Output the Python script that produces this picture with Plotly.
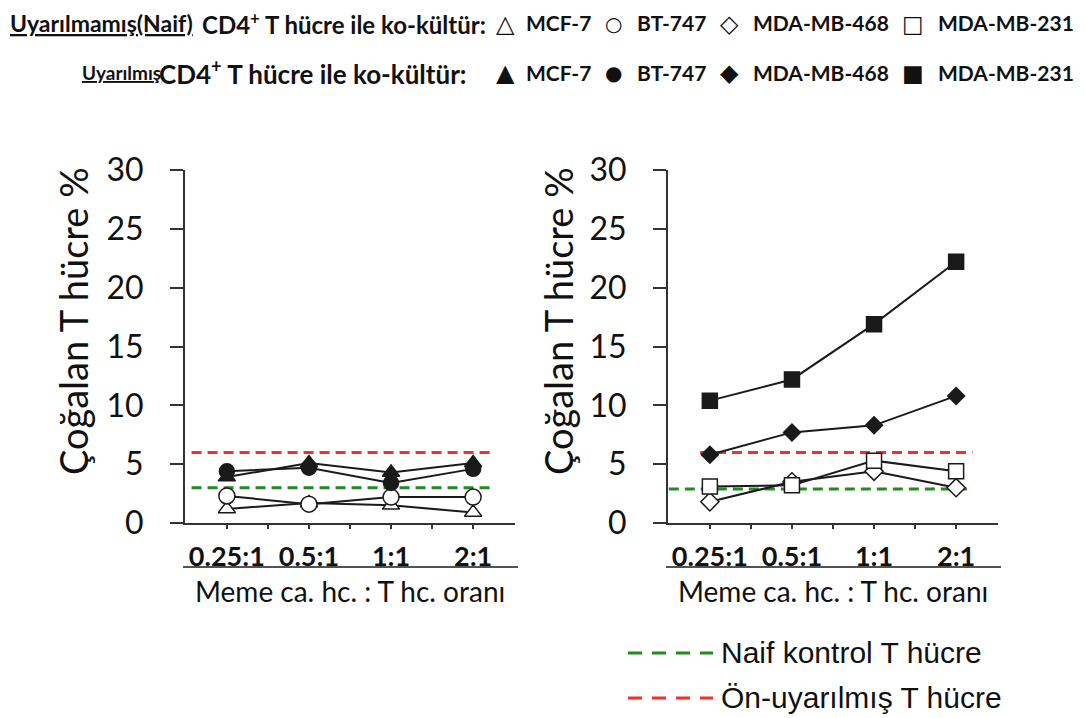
import plotly.graph_objects as go

# ---------------- data ----------------
ratios = ["0.25:1", "0.5:1", "1:1", "2:1"]
x_idx = list(range(len(ratios)))
y_ticks = [0, 5, 10, 15, 20, 25, 30]

# Left panel (MCF-7, BT-747)
left_mcf7_naive = [1.2, 1.7, 1.5, 0.9]
left_bt747_naive = [2.3, 1.6, 2.2, 2.2]
left_mcf7_stim = [3.9, 5.1, 4.3, 5.1]
left_bt747_stim = [4.4, 4.7, 3.4, 4.6]

# Right panel (MDA-MB-468, MDA-MB-231)
right_468_naive = [1.8, 3.5, 4.4, 3.0]
right_231_naive = [3.1, 3.2, 5.3, 4.4]
right_468_stim = [5.8, 7.7, 8.3, 10.8]
right_231_stim = [10.4, 12.2, 16.9, 22.2]

# control reference levels (left panel, right panel)
naive_ctrl = [3.0, 2.9]
prestim_ctrl = [6.0, 6.0]

# ---------------- styling helpers ----------------
W, H = 1085, 718
def px(x):
    return x / W
def py(y):
    return 1 - y / H

RED = "#ff2b2b"
GREEN = "#1f8c1f"
LINE = "#1a1a1a"
AX = "#333333"

fig = go.Figure()

def add_series(xa, ya, vals, symbol, size, filled):
    fig.add_trace(go.Scatter(
        x=x_idx, y=vals, mode="lines+markers", xaxis=xa, yaxis=ya,
        line=dict(color=LINE, width=2),
        marker=dict(symbol=symbol, size=size,
                    color=LINE if filled else "white",
                    line=dict(color=LINE, width=1.5)),
        showlegend=False, hoverinfo="skip"))

# left panel
add_series("x", "y", left_mcf7_naive, "triangle-up", 15, False)
add_series("x", "y", left_bt747_naive, "circle", 16, False)
add_series("x", "y", left_bt747_stim, "circle", 15, True)
add_series("x", "y", left_mcf7_stim, "triangle-up", 15, True)
# right panel
add_series("x2", "y2", right_468_naive, "diamond", 14, False)
add_series("x2", "y2", right_231_naive, "square", 15, False)
add_series("x2", "y2", right_468_stim, "diamond", 13, True)
add_series("x2", "y2", right_231_stim, "square", 15, True)

# dashed reference lines
ref_ext = {
    ("x", "g"): (-0.43, 3.22), ("x", "r"): (-0.43, 3.22),
    ("x2", "g"): (-0.5, 3.2), ("x2", "r"): (-0.12, 3.2),
}
for i, (xa, ya) in enumerate([("x", "y"), ("x2", "y2")]):
    for key, val, col in (("g", naive_ctrl[i], GREEN), ("r", prestim_ctrl[i], RED)):
        x0, x1 = ref_ext[(xa, key)]
        fig.add_shape(type="line", xref=xa, yref=ya, x0=x0, x1=x1, y0=val, y1=val,
                      line=dict(color=col, width=3, dash="10px,6px"), layer="below")

axis_common = dict(showline=True, linecolor=AX, linewidth=2, showgrid=False,
                   zeroline=False, ticks="outside", tickcolor=AX, automargin=False)

dom_left = [px(185), px(515)]
dom_right = [px(668), px(998)]
dom_y = [py(523), py(170)]

for xname, yname, xdom, anchor_x, anchor_y in (("xaxis", "yaxis", dom_left, "y", "x"),
                                                 ("xaxis2", "yaxis2", dom_right, "y2", "x2")):
    fig.layout[xname] = dict(axis_common, domain=xdom, anchor=anchor_x, range=[-0.51, 3.51],
                             tickvals=x_idx, ticktext=ratios, ticklen=4, tickwidth=1.5,
                             ticklabelstandoff=5,
                             minor=dict(tickvals=[0.5, 1.5, 2.5], ticklen=4, tickwidth=1.5,
                                        ticks="outside", tickcolor=AX),
                             tickfont=dict(family="Lato", size=27, color="#111", weight="bold"))
    fig.layout[yname] = dict(axis_common, domain=dom_y, anchor=anchor_y, range=[0, 30],
                             tickvals=y_ticks, ticklen=13, tickwidth=2,
                             ticklabelstandoff=20,
                             tickfont=dict(family="Lato", size=32, color="#111"))

# separator lines below tick labels and x titles
for x0, x1, xc in ((183, 518, 350), (666, 1001, 833)):
    fig.add_shape(type="line", xref="paper", yref="paper", x0=px(x0), x1=px(x1),
                  y0=py(567), y1=py(567), line=dict(color=LINE, width=1.5))
    fig.add_annotation(text="Meme ca. hc. : T hc. oranı", x=px(xc), y=py(591),
                       xref="paper", yref="paper", showarrow=False, xanchor="center",
                       yanchor="middle", font=dict(family="Lato", size=28, color="#111"))

# y titles
for xc in (73, 558):
    fig.add_annotation(text="Çoğalan T hücre %", x=px(xc), y=py(321), xref="paper",
                       yref="paper", showarrow=False, textangle=-90, xanchor="center",
                       yanchor="middle", font=dict(family="Lato", size=38, color="#111"))

# top legend
def TF(size):
    return dict(family="Lato", size=size, color="#111", weight="bold")

def txt(t, x, y, anchor="left", font=None):
    fig.add_annotation(text=t, x=px(x), y=py(y), xref="paper", yref="paper",
                       showarrow=False, xanchor=anchor, yanchor="middle",
                       font=font if font is not None else TF(21))

txt("Uyarılmamış(Naif)", 8, 23, font=dict(TF(23), lineposition="under"))
txt("CD4<sup>+</sup> T hücre ile ko-kültür:", 200, 23, font=TF(24))
txt("Uyarılmış", 80, 72, font=dict(TF(19), lineposition="under"))
txt("CD4<sup>+</sup> T hücre ile ko-kültür:", 157, 72, font=TF(26))

row_items = [("△", "▲", 505, 24, "MCF-7", 524),
             ("○", "●", 613, 20, "BT-747", 635),
             ("◇", "◆", 729, 24, "MDA-MB-468", 751),
             ("□", "■", 913, 23, "MDA-MB-231", 936)]
for s_open, s_fill, sx, ss, label, lx in row_items:
    sf = dict(family="DejaVu Sans", size=ss, color="#111")
    txt(s_open, sx, 24, anchor="center", font=sf)
    txt(s_fill, sx, 73, anchor="center", font=sf)
    txt(label, lx, 23)
    txt(label, lx, 72)

# bottom legend
for yy, col, label in ((653, GREEN, "Naif kontrol T hücre"), (698, RED, "Ön-uyarılmış T hücre")):
    fig.add_shape(type="line", xref="paper", yref="paper", x0=px(628), x1=px(713),
                  y0=py(yy), y1=py(yy), line=dict(color=col, width=3, dash="14px,10px"))
    fig.add_annotation(text=label, x=px(719), y=py(yy - 1), xref="paper", yref="paper",
                       showarrow=False, xanchor="left", yanchor="middle",
                       font=dict(family="Liberation Sans", size=30, color="#111"))

fig.update_layout(width=W, height=H, margin=dict(l=0, r=0, t=0, b=0, autoexpand=False),
                  plot_bgcolor="white", paper_bgcolor="white", showlegend=False)

fig.write_html("out.html")
